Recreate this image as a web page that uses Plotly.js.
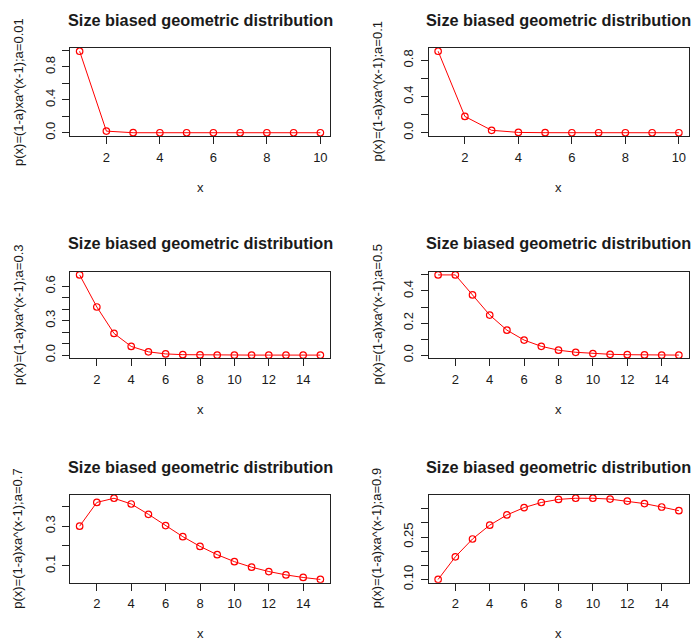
<!DOCTYPE html>
<html>
<head>
<meta charset="utf-8">
<script src="https://cdn.plot.ly/plotly-3.0.1.min.js"></script>
<style>html,body{margin:0;padding:0;background:#fff;}#chart{width:695px;height:640px;}</style>
</head>
<body>
<div id="chart"></div>
<script>
// ---- data ----
const x10 = [1, 2, 3, 4, 5, 6, 7, 8, 9, 10];
const x15 = [1, 2, 3, 4, 5, 6, 7, 8, 9, 10, 11, 12, 13, 14, 15];

const p_a001 = [0.99, 0.0198, 0.0003, 0, 0, 0, 0, 0, 0, 0];
const p_a01  = [0.9, 0.18, 0.027, 0.0036, 0.0005, 0.0001, 0, 0, 0, 0];
const p_a03  = [0.7, 0.42, 0.189, 0.0756, 0.0284, 0.0102, 0.0036, 0.0012, 0.0004, 0.0001, 0, 0, 0, 0, 0];
const p_a05  = [0.5, 0.5, 0.375, 0.25, 0.156, 0.094, 0.055, 0.031, 0.018, 0.0098, 0.0054, 0.0029, 0.0016, 0.0009, 0.0005];
const p_a07  = [0.3, 0.42, 0.441, 0.412, 0.36, 0.303, 0.247, 0.198, 0.156, 0.121, 0.093, 0.071, 0.054, 0.041, 0.031];
const p_a09  = [0.1, 0.18, 0.243, 0.292, 0.328, 0.354, 0.372, 0.383, 0.387, 0.387, 0.384, 0.377, 0.368, 0.356, 0.343];

const aLabels = ["0.01", "0.1", "0.3", "0.5", "0.7", "0.9"];
const titleText = "Size biased geometric distribution";
const xTitle = "x";

const xTicks10 = [2, 4, 6, 8, 10];
const xTicks15 = [2, 4, 6, 8, 10, 12, 14];

const yTickVals = [
  [0, 0.2, 0.4, 0.6, 0.8, 1.0],
  [0, 0.2, 0.4, 0.6, 0.8],
  [0, 0.1, 0.2, 0.3, 0.4, 0.5, 0.6],
  [0, 0.1, 0.2, 0.3, 0.4, 0.5],
  [0.1, 0.2, 0.3, 0.4],
  [0.10, 0.15, 0.20, 0.25, 0.30, 0.35]
];
const yTickText = [
  ["0.0", "", "0.4", "", "0.8", ""],
  ["0.0", "", "0.4", "", "0.8"],
  ["0.0", "", "", "0.3", "", "", "0.6"],
  ["0.0", "", "0.2", "", "0.4", ""],
  ["0.1", "", "0.3", ""],
  ["0.10", "", "", "0.25", "", ""]
];

// ---- layout geometry (pixels) ----
const W = 695, H = 640;
const cols = [[70, 330], [428.5, 688.5]];
const rows = [[48, 136], [271.7, 358.3], [495, 582.7]];

const series = [
  {x: x10, y: p_a001, xt: xTicks10},
  {x: x10, y: p_a01,  xt: xTicks10},
  {x: x15, y: p_a03,  xt: xTicks15},
  {x: x15, y: p_a05,  xt: xTicks15},
  {x: x15, y: p_a07,  xt: xTicks15},
  {x: x15, y: p_a09,  xt: xTicks15}
];

function pad(arr) {
  const lo = Math.min(...arr), hi = Math.max(...arr);
  const d = (hi - lo) * 0.04;
  return [lo - d, hi + d];
}

const FONT = "Liberation Sans, Arial, Helvetica, sans-serif";
const TXT = "#1a1a1a";
const traces = [];
const layout = {
  width: W, height: H,
  margin: {l: 0, r: 0, t: 0, b: 0},
  paper_bgcolor: "#ffffff",
  plot_bgcolor: "#ffffff",
  showlegend: false,
  font: {family: FONT, size: 13, color: TXT},
  annotations: []
};

series.forEach((s, i) => {
  const r = Math.floor(i / 2), c = i % 2;
  const sfx = i === 0 ? "" : String(i + 1);
  const [x0, x1] = cols[c];
  const [y0, y1] = rows[r];
  traces.push({
    type: "scatter", mode: "lines+markers",
    x: s.x, y: s.y,
    xaxis: "x" + sfx, yaxis: "y" + sfx,
    line: {color: "#ff0000", width: 1},
    marker: {symbol: "circle-open", size: 6.5, color: "#ff0000", line: {color: "#ff0000", width: 1.2}},
    hoverinfo: "skip"
  });
  const common = {
    showgrid: false, zeroline: false,
    showline: true, mirror: true, linecolor: "#222", linewidth: 1,
    ticks: "outside", ticklen: 7, tickcolor: "#222", tickwidth: 1,
    tickfont: {family: FONT, size: 13, color: TXT},
    tickmode: "array", fixedrange: true
  };
  layout["xaxis" + sfx] = Object.assign({}, common, {
    domain: [x0 / W, x1 / W],
    range: pad(s.x),
    tickvals: s.xt,
    ticktext: s.xt.map(String),
    anchor: "y" + sfx,
    ticklabelstandoff: 2
  });
  layout["yaxis" + sfx] = Object.assign({}, common, {
    domain: [1 - y1 / H, 1 - y0 / H],
    range: pad(s.y),
    tickvals: yTickVals[i],
    ticktext: yTickText[i],
    tickangle: -90,
    anchor: "x" + sfx,
    ticklabelstandoff: 2
  });
  const cx = (x0 + x1) / 2;
  // main title
  layout.annotations.push({
    xref: "paper", yref: "paper",
    x: cx / W, y: 1 - (y0 - 28.5) / H,
    xanchor: "center", yanchor: "middle",
    text: "<b>" + titleText + "</b>",
    showarrow: false,
    font: {family: FONT, size: 16.3, color: TXT}
  });
  // x-axis title
  layout.annotations.push({
    xref: "paper", yref: "paper",
    x: cx / W, y: 1 - (y1 + 51) / H,
    xanchor: "center", yanchor: "middle",
    text: xTitle, showarrow: false,
    font: {family: FONT, size: 13, color: TXT}
  });
  // y-axis title
  layout.annotations.push({
    xref: "paper", yref: "paper",
    x: (x0 - 52) / W, y: 1 - ((y0 + y1) / 2) / H,
    xanchor: "center", yanchor: "middle",
    textangle: -90,
    text: "p(x)=(1-a)xa^(x-1);a=" + aLabels[i], showarrow: false,
    font: {family: FONT, size: 13, color: TXT}
  });
});

Plotly.newPlot("chart", traces, layout, {staticPlot: true, displayModeBar: false});
</script>
</body>
</html>
